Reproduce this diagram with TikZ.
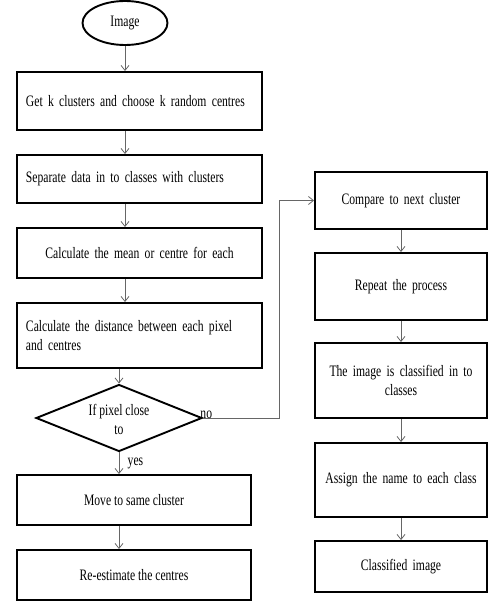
\documentclass[tikz,border=0pt]{standalone}
\usepackage{fontspec}
\setmainfont{Liberation Serif}[FakeStretch=0.73]
\usepackage{tikz}
\usetikzlibrary{arrows.meta,calc,positioning,shapes.geometric}
\hyphenpenalty=10000

\begin{document}
\begin{tikzpicture}[x=1bp,y=-1bp,font=\fontsize{16}{19}\selectfont,
  box/.style={draw,line width=1.9bp,inner sep=9bp},
  lbox/.style={box,text width=227bp,align=left},
  rbox/.style={box,inner sep=4bp,text width=164bp,align=center},
  flow/.style={draw=black!60,line width=0.8bp,-{Straight Barb[length=5bp,width=8bp]}}]
  \useasboundingbox (0,0) rectangle (493,607);
  \node[ellipse,draw,line width=1.9bp,minimum width=85bp,minimum height=44bp] (img) at (125,23) {Image};
  \node[lbox,minimum height=58bp] (getk) at (139.5,101) {Get k clusters\ and choose k random centres};
  \node[lbox,minimum height=48bp] (separate) at (139.5,179) {Separate data in to classes with clusters};
  \node[lbox,minimum height=50bp,align=center] (mean) at (139.5,253) {Calculate the mean or centre for each};
  \node[lbox,minimum height=65bp] (dist) at (139.5,335.5) {Calculate the distance between each pixel\\ and centres};
  \node[diamond,draw,line width=1.9bp,minimum width=166bp,minimum height=67bp,inner sep=0pt] (close) at (119,418) {};
  \node[align=center] (closetext) at (119,419) {If pixel close\\ to};
  \node[box,minimum width=234bp,minimum height=50bp] (move) at (134,500) {Move to same cluster};
  \node[box,minimum width=234bp,minimum height=50bp] (reest) at (134,575) {Re-estimate the centres};
  \node[rbox,minimum height=57bp] (compare) at (401,200.5) {Compare to next cluster};
  \node[rbox,minimum height=67bp] (repeat) at (401,286.5) {Repeat the process};
  \node[rbox,minimum height=75bp] (classify) at (401,380.5) {The image is classified in to\\ classes};
  \node[rbox,minimum height=74bp] (assign) at (401,480) {Assign the name to each class};
  \node[rbox,minimum height=51bp] (result) at (401,566.5) {Classified image};
  \coordinate (turn) at (279,200.5);
  \draw[flow] (img) -- (img |- getk.north);
  \draw[flow] (getk.south -| img) -- (separate.north -| img);
  \draw[flow] (separate.south -| img) -- (mean.north -| img);
  \draw[flow] (mean.south -| img) -- (dist.north -| img);
  \draw[flow] (dist.south -| close) -- (close.north);
  \draw[flow] (close.south) -- (close.south |- move.north) node[midway,right=5bp] {yes};
  \draw[flow] (move.south -| close) -- (reest.north -| close);
  \draw[flow] (close.east) -| (turn) -- (compare.west);
  \node[above right=-4bp and -6bp] at (close.east) {no};
  \draw[flow] (compare) -- (repeat);
  \draw[flow] (repeat) -- (classify);
  \draw[flow] (classify) -- (assign);
  \draw[flow] (assign) -- (result);
\end{tikzpicture}
\end{document}
